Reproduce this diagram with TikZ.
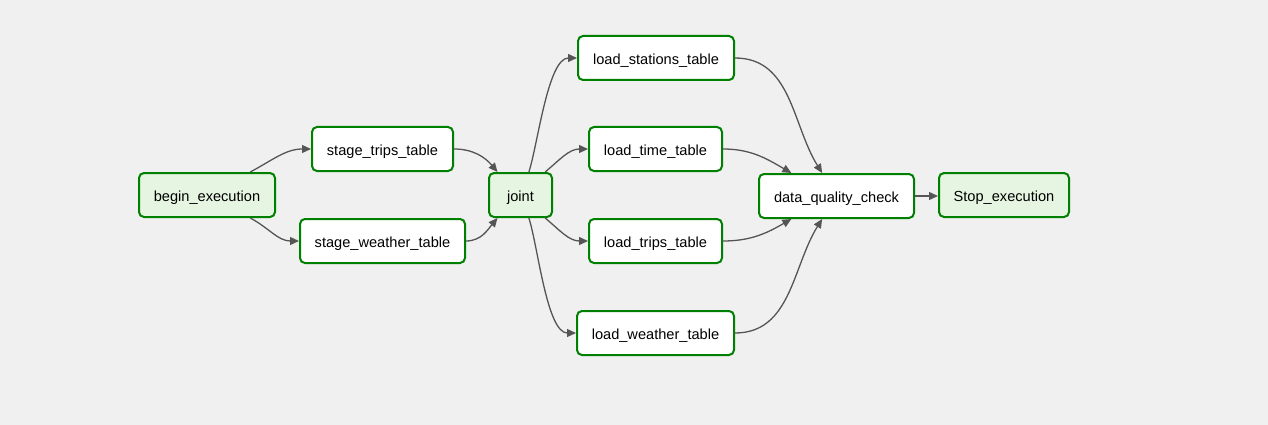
\documentclass[tikz,border=0pt]{standalone}
\usepackage{fontspec}
\setmainfont{Liberation Sans}
\usetikzlibrary{arrows.meta}
\definecolor{bg}{HTML}{F0F0F0}
\definecolor{bordergreen}{HTML}{008000}
\definecolor{lightfill}{HTML}{E6F5E1}
\definecolor{edgegray}{HTML}{555555}
\begin{document}
\begin{tikzpicture}[x=1pt,y=-1pt,
  task/.style={draw=bordergreen, line width=2pt, rounded corners=5pt, fill=white,
    minimum height=44pt, inner sep=0pt, text height=13pt, text depth=0pt,
    font=\fontsize{14.6}{17}\selectfont, text=black},
  dummy/.style={task, fill=lightfill},
  edge/.style={draw=edgegray, line width=1.3pt, -{Triangle[length=9pt,width=8pt]}}
]
\fill[bg] (0,0) rectangle (1268,425);
\useasboundingbox (0,0) rectangle (1268,425);

\node[dummy, minimum width=136pt] (begin) at (207,195) {begin\_execution};
\node[task, minimum width=141pt] (strips) at (382.5,149) {stage\_trips\_table};
\node[task, minimum width=165pt] (sweather) at (382.5,241) {stage\_weather\_table};
\node[dummy, minimum width=63pt] (joint) at (520.5,195) {joint};
\node[task, minimum width=156pt] (lstations) at (656,58) {load\_stations\_table};
\node[task, minimum width=133pt] (ltime) at (655.5,149) {load\_time\_table};
\node[task, minimum width=133pt] (ltrips) at (655.5,241) {load\_trips\_table};
\node[task, minimum width=157pt] (lweather) at (655.5,333) {load\_weather\_table};
\node[task, minimum width=155pt] (dq) at (836.5,196) {data\_quality\_check};
\node[dummy, minimum width=130pt] (stop) at (1004,195) {Stop\_execution};

\draw[edge] (begin.28) to[out=28,in=180] (strips.west);
\draw[edge] (begin.-28) to[out=-28,in=180] (sweather.west);
\draw[edge] (strips.east) to[out=0,in=130] (joint.135);
\draw[edge] (sweather.east) to[out=0,in=-130] (joint.-135);
\draw[edge] (joint.70) to[out=72,in=180,looseness=0.6] (lstations.west);
\draw[edge] (joint.43) to[out=40,in=180] (ltime.west);
\draw[edge] (joint.-43) to[out=-40,in=180] (ltrips.west);
\draw[edge] (joint.-70) to[out=-72,in=180,looseness=0.6] (lweather.west);
\draw[edge] (lstations.east) to[out=0,in=122] (dq.122);
\draw[edge] (ltime.east) to[out=0,in=150] (dq.153);
\draw[edge] (ltrips.east) to[out=0,in=-150] (dq.-153);
\draw[edge] (lweather.east) to[out=0,in=-122] (dq.-122);
\draw[edge] (dq.east) -- (stop.west |- dq.east);
\end{tikzpicture}
\end{document}
